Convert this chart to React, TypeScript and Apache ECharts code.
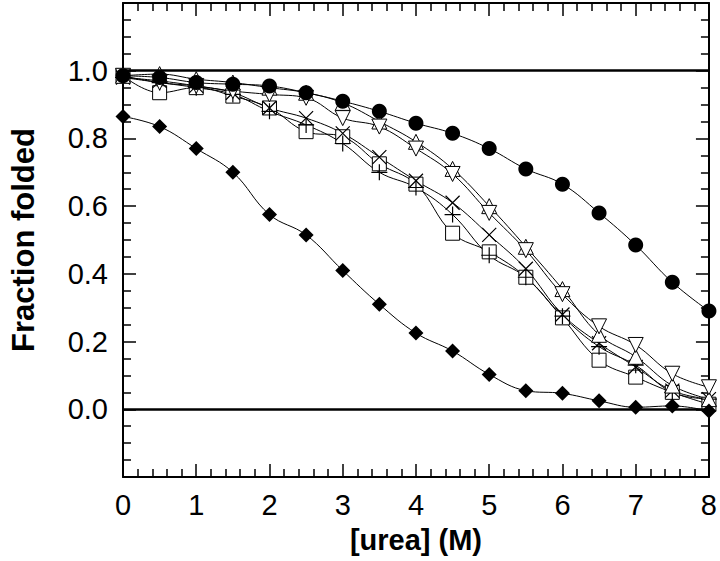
import React, { useEffect, useRef } from "react";
import * as echarts from "echarts";

const urea = [0, 0.5, 1, 1.5, 2, 2.5, 3, 3.5, 4, 4.5, 5, 5.5, 6, 6.5, 7, 7.5, 8];
const xTicks = [0, 1, 2, 3, 4, 5, 6, 7, 8];
const yTickLabels = ["0.0", "0.2", "0.4", "0.6", "0.8", "1.0"];

const filledCircle = [0.985, 0.98, 0.965, 0.96, 0.955, 0.935, 0.91, 0.88, 0.845, 0.815, 0.77, 0.71, 0.665, 0.58, 0.485, 0.375, 0.29];
const filledDiamond = [0.865, 0.835, 0.77, 0.7, 0.575, 0.515, 0.41, 0.31, 0.225, 0.172, 0.103, 0.055, 0.047, 0.025, 0.006, 0.01, -0.005];
const openSquare = [0.985, 0.935, 0.95, 0.925, 0.89, 0.82, 0.805, 0.725, 0.665, 0.52, 0.465, 0.39, 0.27, 0.145, 0.095, 0.05, 0.015];
const plusMark = [0.98, 0.965, 0.95, 0.93, 0.88, 0.84, 0.785, 0.7, 0.655, 0.575, 0.455, 0.39, 0.275, 0.185, 0.13, 0.05, 0.03];
const crossMark = [0.98, 0.97, 0.955, 0.935, 0.89, 0.86, 0.815, 0.745, 0.675, 0.61, 0.515, 0.415, 0.28, 0.195, 0.125, 0.055, 0.03];
const triUp = [0.985, 0.99, 0.975, 0.965, 0.95, 0.935, 0.905, 0.85, 0.79, 0.71, 0.6, 0.48, 0.355, 0.22, 0.155, 0.07, 0.03];
const triDown = [0.985, 0.965, 0.955, 0.94, 0.93, 0.92, 0.86, 0.835, 0.77, 0.695, 0.58, 0.47, 0.34, 0.245, 0.19, 0.105, 0.065];
const refLevels = [0, 1];

const FONT = "'Liberation Sans', Arial, Helvetica, sans-serif";

function pairs(vals: number[]) {
  return urea.map((x, i) => [x, vals[i]]);
}

function axisLine() {
  return { show: true, onZero: false, lineStyle: { color: "#000", width: 2 } };
}
function majorTick() {
  return { show: true, inside: true, length: 13, lineStyle: { color: "#000", width: 1.5 } };
}
function minorTick(split: number) {
  return { show: true, splitNumber: split, length: 8, lineStyle: { color: "#000", width: 1.5 } };
}

export default function App() {
  const ref = useRef<HTMLDivElement>(null);
  useEffect(() => {
    if (!ref.current) return;
    const chart = echarts.init(ref.current, undefined, { renderer: "svg" });
    const lineStyle = { color: "#000", width: 1 };
    const openItem = { color: "#fff", borderColor: "#000", borderWidth: 1 };
    const strokeItem = { color: "transparent", borderColor: "#000", borderWidth: 1.2 };
    const mk = (name: string, vals: number[], symbol: string, size: number, itemStyle: any, extra: any = {}) => ({
      name,
      type: "line",
      data: pairs(vals),
      smooth: 0.4,
      symbol,
      symbolSize: size,
      showAllSymbol: true,
      clip: false,
      lineStyle,
      itemStyle,
      emphasis: { disabled: true },
      ...extra,
    });
    const xLabelSet = new Set(xTicks.map((v) => v.toFixed(0)));
    const yLabelSet = new Set(yTickLabels);
    chart.setOption({
      animation: false,
      backgroundColor: "#fff",
      grid: { left: 115, right: 10, top: 3, bottom: 84 },
      xAxis: [
        {
          type: "value",
          min: 0,
          max: 8,
          interval: 1,
          position: "bottom",
          axisLine: axisLine(),
          splitLine: { show: false },
          axisTick: majorTick(),
          minorTick: minorTick(5),
          axisLabel: {
            color: "#000",
            fontSize: 29,
            fontFamily: FONT,
            margin: 13,
            formatter: (v: number) => (xLabelSet.has(v.toFixed(0)) ? v.toFixed(0) : ""),
          },
          name: "[urea] (M)",
          nameLocation: "middle",
          nameGap: 48,
          nameTextStyle: { color: "#000", fontSize: 29, fontWeight: "bold", fontFamily: FONT },
        },
        {
          type: "value",
          min: 0,
          max: 8,
          interval: 1,
          position: "top",
          axisLine: axisLine(),
          splitLine: { show: false },
          axisTick: majorTick(),
          minorTick: minorTick(5),
          axisLabel: { show: false },
        },
      ],
      yAxis: [
        {
          type: "value",
          min: -0.2,
          max: 1.2,
          interval: 0.2,
          position: "left",
          axisLine: axisLine(),
          splitLine: { show: false },
          axisTick: majorTick(),
          minorTick: minorTick(4),
          axisLabel: {
            color: "#000",
            fontSize: 29,
            fontFamily: FONT,
            margin: 15,
            formatter: (v: number) => {
              const s = (Math.round(v * 10) / 10).toFixed(1);
              return yLabelSet.has(s) ? s : "";
            },
          },
          name: "Fraction folded",
          nameLocation: "middle",
          nameGap: 84,
          nameTextStyle: { color: "#000", fontSize: 31, fontWeight: "bold", fontFamily: FONT },
        },
        {
          type: "value",
          min: -0.2,
          max: 1.2,
          interval: 0.2,
          position: "right",
          axisLine: axisLine(),
          splitLine: { show: false },
          axisTick: majorTick(),
          minorTick: minorTick(4),
          axisLabel: { show: false },
        },
      ],
      series: [
        {
          name: "ref",
          type: "line",
          data: [],
          markLine: {
            silent: true,
            symbol: "none",
            label: { show: false },
            lineStyle: { color: "#000", width: 2.5, type: "solid" },
            data: refLevels.map((v) => ({ yAxis: v })),
          },
        },
        mk("squares", openSquare, "rect", 14, openItem),
        mk("plus", plusMark, "path://M10,0L10,20M0,10L20,10", 16, strokeItem),
        mk("cross", crossMark, "path://M0,0L20,20M20,0L0,20", 14, strokeItem),
        mk("triUp", triUp, "triangle", 15, openItem),
        mk("triDown", triDown, "triangle", 15, openItem, { symbolRotate: 180 }),
        mk("diamond", filledDiamond, "diamond", 15, { color: "#000" }),
        mk("circle", filledCircle, "circle", 15, { color: "#000" }),
      ],
    });
    return () => chart.dispose();
  }, []);
  return (
    <div
      ref={ref}
      style={{ position: "absolute", left: 0, top: 0, width: 720, height: 561, background: "#fff" }}
    />
  );
}
